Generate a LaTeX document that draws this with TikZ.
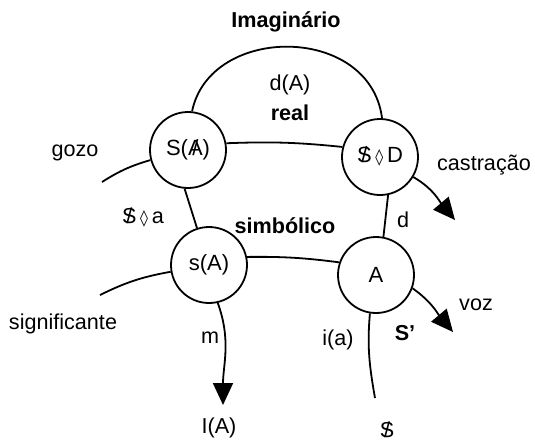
\documentclass[tikz,border=0pt]{standalone}
\usepackage{fontspec}
\setmainfont{Liberation Sans}
\newfontfamily\symfont{DejaVu Sans}
\usetikzlibrary{arrows.meta}
\newcommand{\barS}{\ooalign{S\cr\hidewidth/\hidewidth\cr}}
\newcommand{\barA}{\ooalign{A\cr\hidewidth/\hidewidth\cr}}
\newcommand{\poin}{{\symfont\fontsize{8}{9}\selectfont ◊}}
\tikzset{
  ring/.style={draw, circle, line width=0.9pt, minimum size=38pt, inner sep=0pt, font=\fontsize{11}{12}\selectfont},
  lbl/.style={font=\fontsize{10.8}{12}\selectfont, inner sep=0pt},
  lblb/.style={lbl, font=\fontsize{10.8}{12}\selectfont\bfseries},
  ln/.style={line width=0.9pt},
  flow/.style={ln, -{Triangle[length=11pt,width=10pt]}},
}
\begin{document}
\begin{tikzpicture}[x=0.5pt, y=-0.5pt]
  \useasboundingbox (0,0) rectangle (535,441);
  % the four rings
  \node[ring] (SA) at (188,150) {S(\barA)};
  \node[ring] (SD) at (380,157) {\barS\,\poin\,D};
  \node[ring] (sA) at (209,265) {s(A)};
  \node[ring] (A) at (376,275) {A};
  % free ends
  \coordinate (gozoEnd) at (102,182);
  \coordinate (sigEnd) at (100,295);
  \coordinate (castTip) at (455,220);
  \coordinate (vozTip) at (453,332);
  \coordinate (mTip) at (223,405);
  \coordinate (iaEnd) at (375,398);
  % labels
  \node[lblb] (imag) at (286,22) {Imaginário};
  \node[lbl] (dA) at (290,85) {d(A)};
  \node[lblb] (real) at (290,113) {real};
  \node[lbl] (gozo) at (75,153) {gozo};
  \node[lbl] (cast) at (484,165) {castração};
  \node[lbl] (Sa) at (143,218) {\barS\,\poin\,a};
  \node[lblb] (simb) at (285,226) {simbólico};
  \node[lbl] (d) at (403,220) {d};
  \node[lbl] (sig) at (63,324) {significante};
  \node[lbl] (voz) at (476,305) {voz};
  \node[lbl] (m) at (210,338) {m};
  \node[lbl] (ia) at (338,340) {i(a)};
  \node[lblb] (Sp) at (405,333) {S'};
  \node[lbl] (IA) at (219,428) {I(A)};
  \node[lbl] (S) at (387,430) {\barS};
  % connectors
  \draw[ln] (SA.84) .. controls (210,24) and (370,24) .. (SD.87);
  \draw[ln] (SA.10) to[bend left=4] (SD.165);
  \draw[ln] (SA.-95) -- (sA.108);
  \draw[ln] (sA.12) to[bend left=4] (A.161);
  \draw[ln] (SD.-78) -- (A.79);
  \draw[ln] (gozoEnd) to[bend left=8] (SA.195);
  \draw[ln] (sigEnd) to[bend left=8] (sA.190);
  \draw[flow] (SD.-31) to[out=-30,in=130] (castTip);
  \draw[flow] (A.-20) to[out=-35,in=130] (vozTip);
  \draw[flow] (sA.-77) to[out=-70,in=90] (mTip);
  \draw[ln] (A.-99) to[out=-95,in=100] (iaEnd);
\end{tikzpicture}
\end{document}
